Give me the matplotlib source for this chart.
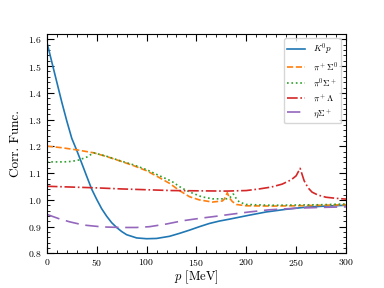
import matplotlib
matplotlib.use("Agg")
import matplotlib.pyplot as plt
from matplotlib.ticker import MultipleLocator

plt.rcParams['font.family'] = 'serif'
plt.rcParams['font.serif'] = ['cmr10', 'DejaVu Serif']
plt.rcParams['mathtext.fontset'] = 'cm'
plt.rcParams['axes.formatter.use_mathtext'] = True

# values
p_k0p = [0, 5, 10, 15, 20, 25, 30, 35, 40, 45, 50, 55, 60, 65, 70, 75, 80, 90, 100,
         110, 123, 133, 143, 153, 163, 173, 183, 203, 220, 240, 260, 280, 300]
c_k0p = [1.59, 1.515, 1.44, 1.365, 1.295, 1.23, 1.185, 1.137, 1.088, 1.04, 1.002,
         0.967, 0.939, 0.915, 0.897, 0.882, 0.87, 0.858, 0.855, 0.856, 0.864, 0.875,
         0.887, 0.9, 0.912, 0.921, 0.928, 0.943, 0.955, 0.965, 0.973, 0.977, 0.98]

p_pipS0 = [0, 15, 30, 47, 60, 73, 87, 100, 112, 123, 133, 143, 153, 166, 176, 178, 181,
           183, 186, 190, 200, 225, 250, 275, 300]
c_pipS0 = [1.201, 1.195, 1.187, 1.176, 1.162, 1.146, 1.128, 1.109, 1.085, 1.062, 1.035,
           1.012, 1.0, 0.992, 0.996, 1.003, 1.027, 1.008, 0.994, 0.983, 0.978, 0.977,
           0.978, 0.98, 0.982]

p_pi0Sp = [0, 17, 25, 32, 40, 47, 60, 73, 87, 100, 112, 125, 135, 143, 155, 166, 180,
           184, 187, 190, 193, 200, 225, 250, 275, 300]
c_pi0Sp = [1.142, 1.142, 1.144, 1.149, 1.16, 1.176, 1.163, 1.147, 1.131, 1.113, 1.092,
           1.07, 1.045, 1.03, 1.012, 1.004, 1.004, 1.01, 1.022, 1.005, 0.992, 0.983,
           0.98, 0.981, 0.982, 0.985]

p_pipL = [0, 25, 50, 75, 100, 125, 150, 180, 200, 213, 225, 236, 245, 250, 254, 256,
          258, 262, 266, 272, 280, 290, 300]
c_pipL = [1.051, 1.048, 1.045, 1.041, 1.038, 1.035, 1.034, 1.033, 1.035, 1.041, 1.048,
          1.059, 1.075, 1.09, 1.118, 1.095, 1.072, 1.045, 1.029, 1.018, 1.01, 1.006, 1.003]

p_etaSp = [0, 12, 23, 37, 56, 75, 90, 103, 120, 136, 153, 170, 186, 203, 223, 250, 275, 300]
c_etaSp = [0.946, 0.93, 0.918, 0.906, 0.899, 0.897, 0.897, 0.9, 0.91, 0.922, 0.931,
           0.939, 0.947, 0.955, 0.963, 0.969, 0.972, 0.974]

fig = plt.figure(figsize=(3.84, 2.88), dpi=100)
ax = fig.add_axes([0.122, 0.12, 0.779, 0.762])

lw = 1.2
ax.plot(p_k0p, c_k0p, color='tab:blue', lw=lw, label=r'$K^0p$')
ax.plot(p_pipS0, c_pipS0, color='tab:orange', lw=lw, ls='--', label=r'$\pi^+\Sigma^0$')
ax.plot(p_pi0Sp, c_pi0Sp, color='tab:green', lw=lw, ls=':', label=r'$\pi^0\Sigma^+$')
ax.plot(p_pipL, c_pipL, color='tab:red', lw=lw, ls='-.', label=r'$\pi^+\Lambda$')
ax.plot(p_etaSp, c_etaSp, color='tab:purple', lw=lw, ls=(0, (8, 4)), label=r'$\eta\Sigma^+$')

ax.set_xlim(0, 300)
ax.set_ylim(0.8, 1.62)
ax.xaxis.set_major_locator(MultipleLocator(50))
ax.xaxis.set_minor_locator(MultipleLocator(10))
ax.yaxis.set_major_locator(MultipleLocator(0.1))
ax.yaxis.set_minor_locator(MultipleLocator(0.02))
ax.tick_params(which='both', direction='in', top=True, right=True, labelsize=7)
ax.tick_params(which='major', length=5)
ax.tick_params(which='minor', length=2.5)
ax.tick_params(axis='x', which='major', pad=2.5)

ax.set_xlabel(r'$p$ [MeV]', fontsize=9, labelpad=0.5)
ax.set_ylabel('Corr. Func.', fontsize=9.5)
ax.legend(loc='upper right', fontsize=6.5, frameon=True, labelspacing=0.35)

fig.savefig('out.png', dpi=100)
